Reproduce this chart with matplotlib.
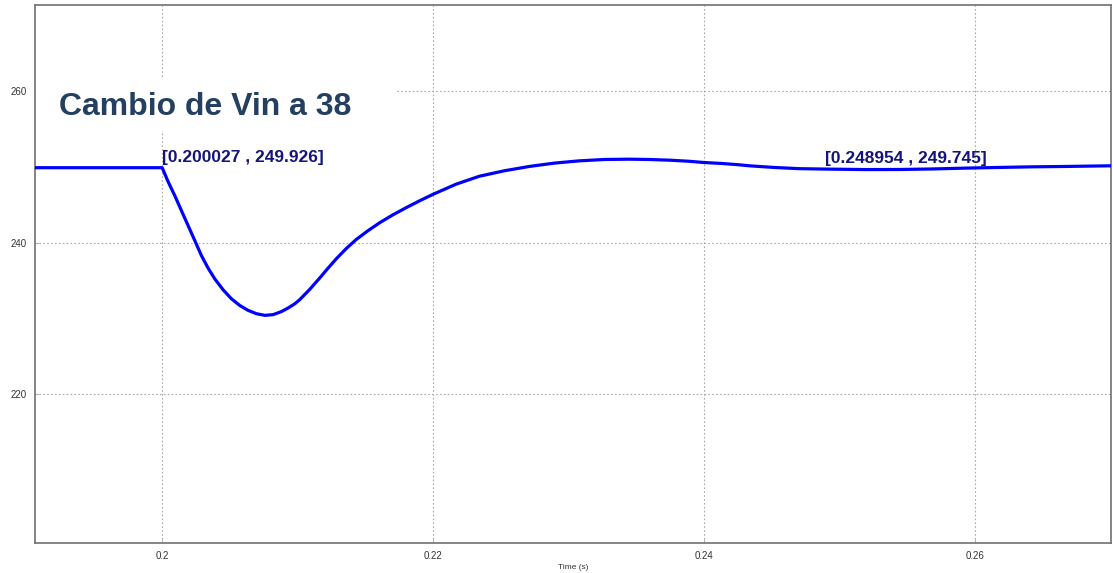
import matplotlib
matplotlib.use('Agg')
import matplotlib.pyplot as plt
from matplotlib.patches import Rectangle

# output voltage after the input step
t = [0.19064, 0.200027, 0.200466, 0.200958, 0.201449, 0.20194, 0.202431,
     0.202922, 0.203413, 0.203904, 0.204518, 0.205132, 0.205746, 0.20636,
     0.206974, 0.207587, 0.208201, 0.208815, 0.209306, 0.209797, 0.210166,
     0.210902, 0.211639, 0.212253, 0.212867, 0.213603, 0.21434, 0.215199,
     0.216059, 0.217041, 0.218023, 0.219006, 0.21999, 0.221706, 0.223425,
     0.225267, 0.227109, 0.22895, 0.230792, 0.232634, 0.234475, 0.235948,
     0.237422, 0.238772, 0.24, 0.24135, 0.242578, 0.243315, 0.245157,
     0.246998, 0.248954, 0.251909, 0.254365, 0.25682, 0.259276, 0.261731,
     0.264187, 0.266642, 0.27008]
v = [249.926, 249.926, 248.07, 246.23, 244.25, 242.28, 240.31,
     238.33, 236.67, 235.26, 233.82, 232.63, 231.75, 231.1,
     230.66, 230.44, 230.53, 230.93, 231.4, 231.95, 232.5,
     233.85, 235.35, 236.65, 237.9, 239.25, 240.45, 241.6,
     242.65, 243.7, 244.65, 245.55, 246.4, 247.75, 248.8,
     249.52, 250.09, 250.53, 250.83, 251.01, 251.05, 251.01,
     250.92, 250.79, 250.61, 250.48, 250.31, 250.18, 249.96,
     249.8, 249.745, 249.68, 249.69, 249.76, 249.87, 249.96,
     250.04, 250.09, 250.18]

marks_t = [0.200027, 0.248954]
marks_v = [249.926, 249.745]

xticks = [0.2, 0.22, 0.24, 0.26]
xlabels = ['0.2', '0.22', '0.24', '0.26']
yticks = [220, 240, 260]

plt.rcParams['font.family'] = ['Liberation Sans', 'DejaVu Sans']

fig = plt.figure(figsize=(11.13, 5.73), dpi=100)
ax = fig.add_axes([0.0314, 0.0524, 0.9668, 0.9389])

ax.plot(t, v, color='#0000ff', linewidth=2.3, solid_joinstyle='round', zorder=3)

ax.set_xlim(0.19064, 0.27002)
ax.set_ylim(200.4, 271.4)
ax.set_xticks(xticks)
ax.set_xticklabels(xlabels)
ax.set_yticks(yticks)
ax.grid(True, color='#a8a8a8', linestyle=(0, (1.5, 2)), linewidth=0.8)
ax.tick_params(direction='in', length=3, width=0.6, color='#a8a8a8',
               labelsize=7, labelcolor='#333333', pad=6)
for s in ax.spines.values():
    s.set_color('#707070')
    s.set_linewidth(1.2)

ax.set_xlabel('Time (s)', fontsize=6, color='#333333', labelpad=2)

# white box behind the heading hides the grid
ax.add_patch(Rectangle((0, 0.766), 0.3346, 0.1, transform=ax.transAxes,
                       facecolor='white', edgecolor='none', zorder=2))
ax.text(0.0223, 0.8104, 'Cambio de Vin a 38', transform=ax.transAxes,
        fontsize=23, fontweight='bold', color='#243f60', va='center',
        ha='left', zorder=4)

for mt, mv in zip(marks_t, marks_v):
    ax.annotate(f'[{mt:.6f} , {mv:.3f}]', xy=(mt, mv), xytext=(0, 2),
                textcoords='offset points', ha='left', va='bottom',
                fontsize=12.5, fontweight='bold', color='#14147a', zorder=5)

fig.savefig('out.png', dpi=100)
